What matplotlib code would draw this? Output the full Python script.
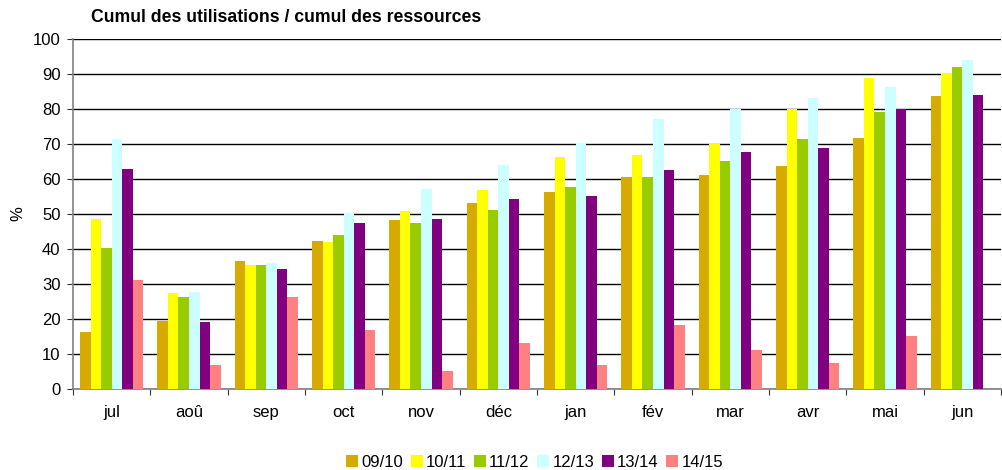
import numpy as np
import matplotlib
matplotlib.use("Agg")
import matplotlib.pyplot as plt
from matplotlib.lines import Line2D

plt.rcParams['font.family'] = ['Liberation Sans', 'DejaVu Sans']

months = ["jul", "aoû", "sep", "oct", "nov", "déc", "jan", "fév", "mar", "avr", "mai", "jun"]
series_names = ["09/10", "10/11", "11/12", "12/13", "13/14", "14/15"]
s0910 = [16.3, 19.4, 36.6, 42.3, 48.3, 53.2, 56.3, 60.6, 61.2, 63.8, 71.8, 83.8]
s1011 = [48.6, 27.4, 35.5, 42.0, 50.9, 56.9, 66.4, 66.9, 70.2, 80.0, 88.9, 90.4]
s1112 = [40.3, 26.3, 35.5, 44.0, 47.5, 51.2, 57.8, 60.6, 65.2, 71.5, 79.2, 92.1]
s1213 = [71.5, 27.7, 36.0, 50.3, 57.2, 64.1, 70.4, 77.2, 80.0, 83.2, 86.4, 94.1]
s1314 = [62.9, 19.2, 34.3, 47.5, 48.6, 54.3, 55.2, 62.6, 67.8, 68.9, 80.0, 84.1]
s1415 = [31.2, 6.9, 26.3, 16.9, 5.1, 13.2, 6.9, 18.3, 11.2, 7.4, 15.2, np.nan]
colors = ["#D6AA00", "#FFFF00", "#99CC00", "#CCFFFF", "#800080", "#FF8080"]

series = [s0910, s1011, s1112, s1213, s1314, s1415]

fig = plt.figure(figsize=(10.03, 4.70), dpi=100)
ax = fig.add_axes([0.0728, 0.1723, 0.998 - 0.0728, 0.7447])

x = np.arange(len(months))
w = 0.136
for i, (vals, c) in enumerate(zip(series, colors)):
    ax.bar(x + (i - 2.5) * w, vals, width=w, color=c, linewidth=0, zorder=3)

ax.set_xlim(-0.5, len(months) - 0.5)
ax.set_ylim(0, 100)
ax.set_yticks(np.arange(0, 101, 10))
ax.yaxis.grid(True, color="black", linewidth=1.0, zorder=0)
ax.set_axisbelow(True)

for s in ["top", "right"]:
    ax.spines[s].set_visible(False)
for s in ["left", "bottom"]:
    ax.spines[s].set_color("#808080")
    ax.spines[s].set_linewidth(1.2)

ax.set_xticks(np.arange(-0.5, len(months), 1.0))
ax.set_xticklabels([])
ax.set_xticks(x, minor=True)
ax.set_xticklabels(months, minor=True, fontsize=12)
ax.tick_params(axis="x", which="major", direction="out", length=4, color="#333333")
ax.tick_params(axis="x", which="minor", length=0, pad=11.5)
ax.tick_params(axis="y", direction="out", length=4, color="#333333", labelsize=12, pad=5)

ax.set_ylabel("%", fontsize=12, labelpad=5)

fig.text(0.0907, 0.962, "Cumul des utilisations / cumul des ressources",
         fontsize=12.7, fontweight="bold", ha="left", va="center")

handles = [Line2D([], [], linestyle="none", marker="s", markersize=8,
                  markerfacecolor=c, markeredgewidth=0) for c in colors]
fig.legend(handles, series_names, loc="center", bbox_to_anchor=(0.533, 0.017),
           ncol=6, frameon=False, fontsize=12, handlelength=0.7,
           handletextpad=0.2, columnspacing=0.47)

fig.savefig("out.png", dpi=100)
